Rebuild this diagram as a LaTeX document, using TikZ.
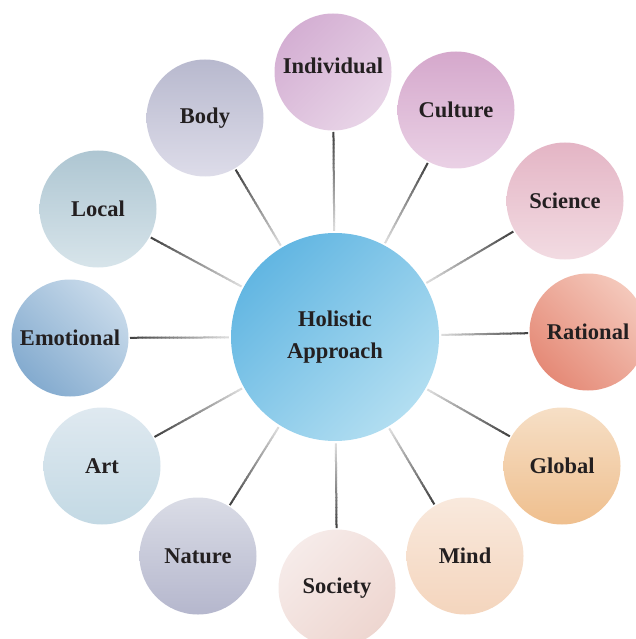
\documentclass[tikz,border=0pt]{standalone}
\usepackage{fontspec}
\setmainfont{Liberation Serif}
\usepackage{tikz}
\usetikzlibrary{calc}
\usepackage{xcolor}

\definecolor{inkdark}{HTML}{231F20}
\definecolor{hubA}{HTML}{62B6E2}
\definecolor{hubB}{HTML}{B2DEF1}
\definecolor{indivA}{HTML}{D4AFD3}
\definecolor{indivB}{HTML}{E8D4E7}
\definecolor{cultA}{HTML}{D5A8CC}
\definecolor{cultB}{HTML}{EAD1E5}
\definecolor{sciA}{HTML}{E4B5C5}
\definecolor{sciB}{HTML}{F2DBE2}
\definecolor{ratA}{HTML}{F4C8BB}
\definecolor{ratB}{HTML}{E58A77}
\definecolor{globA}{HTML}{F6DFC6}
\definecolor{globB}{HTML}{EFBF8E}
\definecolor{mindA}{HTML}{F9E9DD}
\definecolor{mindB}{HTML}{F4D5BD}
\definecolor{socA}{HTML}{F6EBE9}
\definecolor{socB}{HTML}{EED6D0}
\definecolor{natA}{HTML}{DADCE6}
\definecolor{natB}{HTML}{B5B7CD}
\definecolor{artA}{HTML}{DFE9F0}
\definecolor{artB}{HTML}{C3D9E4}
\definecolor{emoA}{HTML}{C8DAEA}
\definecolor{emoB}{HTML}{84ABCF}
\definecolor{locA}{HTML}{AEC6D2}
\definecolor{locB}{HTML}{D7E4EA}
\definecolor{bodyA}{HTML}{B8B9CE}
\definecolor{bodyB}{HTML}{DDDCE9}

\newcommand{\spoke}[1]{%
  \coordinate (s) at ($(#1)!60pt!(hub)$);
  \coordinate (e) at ($(hub)!107pt!(#1)$);
  \foreach \k in {0,...,24}{
    \pgfmathsetmacro{\ta}{\k/25}
    \pgfmathsetmacro{\tb}{(\k+1.2)/25}
    \pgfmathsetmacro{\gr}{74-2.5*\k}
    \draw[spoke, draw=black!\gr] ($(s)!\ta!(e)$) -- ($(s)!\tb!(e)$);
  }}

\begin{document}
\begin{tikzpicture}[
  x=1pt, y=-1pt,
  bub/.style={circle, minimum size=117pt, inner sep=0pt, outer sep=0pt,
              text=inkdark, font=\bfseries\fontsize{22.5}{26}\selectfont},
  hubnode/.style={circle, minimum size=208pt, inner sep=0pt, outer sep=0pt,
              align=center, text=inkdark,
              font=\bfseries\fontsize{22.5}{32}\selectfont,
              top color=hubA, bottom color=hubB, shading angle=45},
  spoke/.style={line width=2pt, line cap=butt},
]
  \useasboundingbox (0,0) rectangle (636,639);
  \clip (0,0) rectangle (636,639);

  % centre
  \node[hubnode] (hub) at (335,337) {Holistic\\Approach};

  % the ring
  \node[bub, top color=indivA, bottom color=indivB, shading angle=45]
    (indiv) at (333,72) {\raisebox{-2pt}[0pt][0pt]{Individual}};
  \node[bub, top color=cultA, bottom color=cultB]
    (cult) at (456,110) {Culture};
  \node[bub, top color=sciA, bottom color=sciB]
    (sci) at (565,201) {Science};
  \node[bub, top color=ratA, bottom color=ratB, shading angle=-45]
    (rat) at (588,332) {Rational};
  \node[bub, top color=globA, bottom color=globB]
    (glob) at (562,466) {Global};
  \node[bub, top color=mindA, bottom color=mindB]
    (mind) at (465,556) {Mind};
  \node[bub, top color=socA, bottom color=socB, shading angle=45]
    (soc) at (337,588) {Society};
  \node[bub, top color=natA, bottom color=natB]
    (nat) at (198,556) {Nature};
  \node[bub, top color=artA, bottom color=artB]
    (art) at (102,466) {Art};
  \node[bub, top color=emoA, bottom color=emoB, shading angle=-45]
    (emo) at (70,338) {Emotional};
  \node[bub, top color=locA, bottom color=locB]
    (loc) at (98,209) {Local};
  \node[bub, top color=bodyA, bottom color=bodyB]
    (body) at (205,118) {Body};

  % spokes, dark at the outer end
  \foreach \n in {indiv,cult,sci,rat,glob,mind,soc,nat,art,emo,loc,body}
    \spoke{\n};
\end{tikzpicture}
\end{document}
